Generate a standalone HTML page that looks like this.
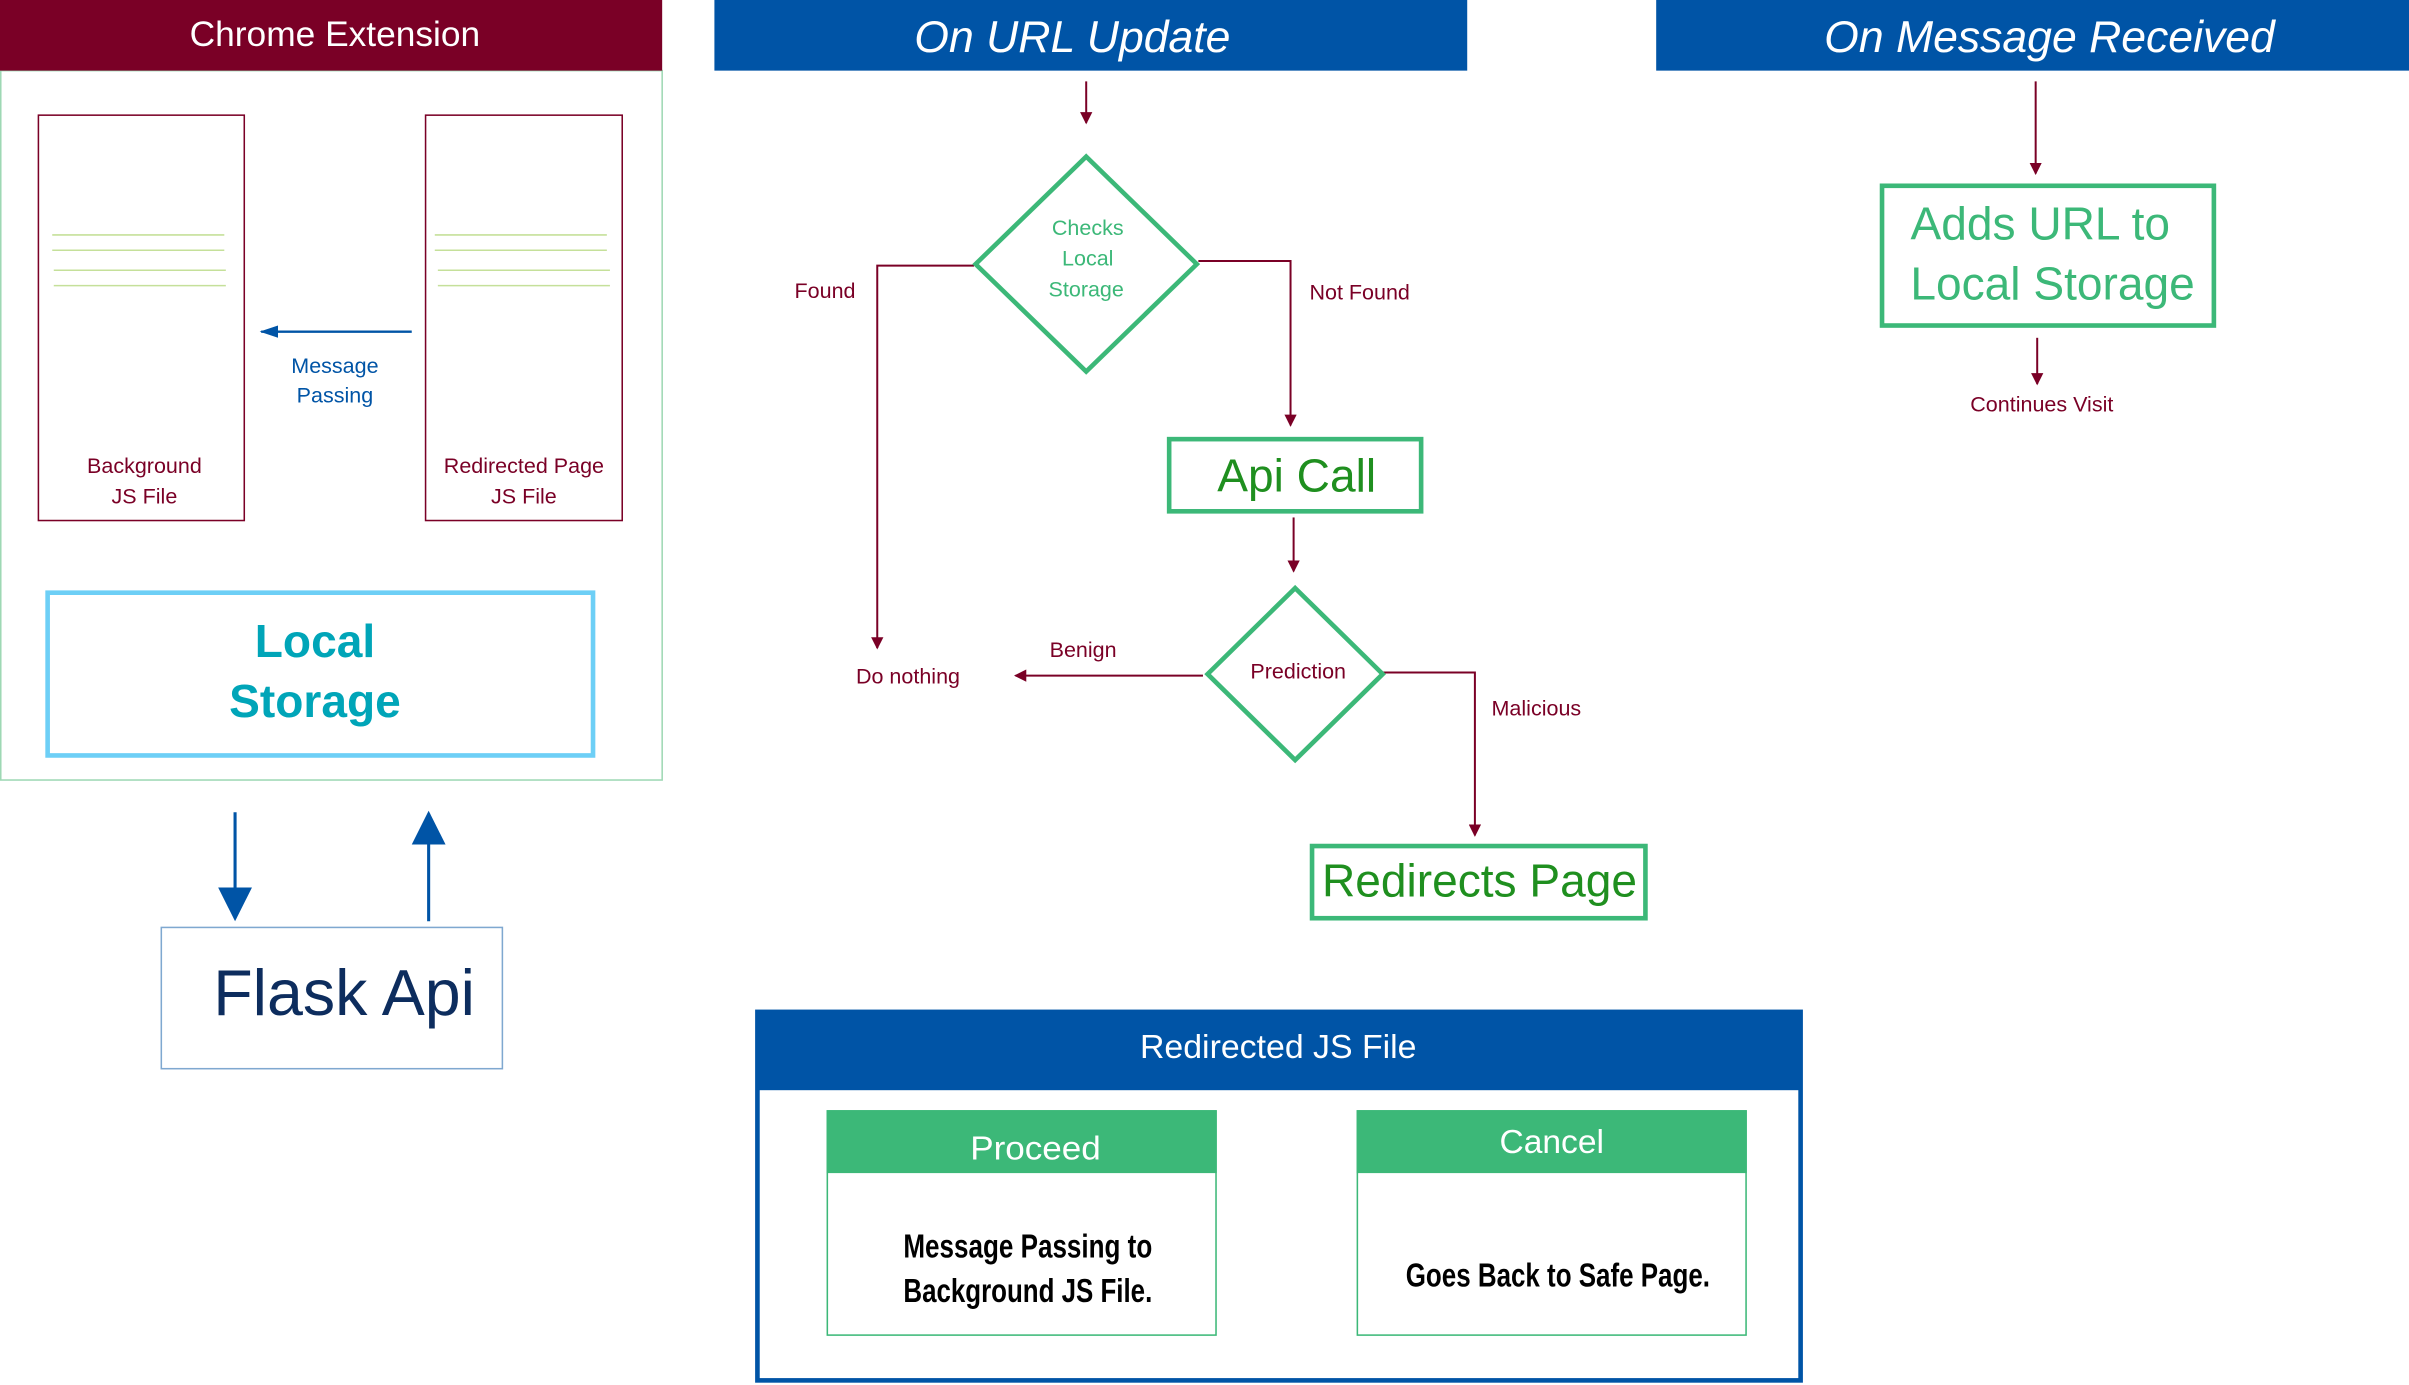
<!DOCTYPE html>
<html><head><meta charset="utf-8"><style>html,body{margin:0;padding:0;background:#fff}svg{display:block}</style></head>
<body>
<svg width="2409" height="1385" viewBox="0 0 1568 902" preserveAspectRatio="none" xmlns="http://www.w3.org/2000/svg" font-family="Liberation Sans, DejaVu Sans, sans-serif">
<defs>
<marker id="mr" markerWidth="8" markerHeight="8" refX="7" refY="4" orient="auto" markerUnits="userSpaceOnUse"><path d="M0,0 L8,4 L0,8 Z" fill="#7a0026"/></marker>
<marker id="mb" markerWidth="12" markerHeight="8" refX="11" refY="4" orient="auto" markerUnits="userSpaceOnUse"><path d="M0,0 L12,4 L0,8 Z" fill="#0054a6"/></marker>
<marker id="mbig" markerWidth="22" markerHeight="22" refX="20" refY="11" orient="auto" markerUnits="userSpaceOnUse"><path d="M0,0 L22,11 L0,22 Z" fill="#0054a6"/></marker>
</defs>
<rect x="0.5" y="46" width="430.5" height="462" fill="none" stroke="#9ed8b4" stroke-width="1"/>
<rect x="0" y="0" width="431" height="46" fill="#7a0026"/>
<text x="218" y="30" font-size="23" fill="#fff" text-anchor="middle">Chrome Extension</text>
<rect x="25" y="75" width="134" height="264" fill="none" stroke="#7a0026" stroke-width="1"/>
<rect x="277" y="75" width="128" height="264" fill="none" stroke="#7a0026" stroke-width="1"/>
<g stroke="#c5e09a" stroke-width="1">
<line x1="34" y1="153" x2="146" y2="153"/><line x1="34" y1="163" x2="146" y2="163"/><line x1="35" y1="176" x2="147" y2="176"/><line x1="35" y1="186" x2="147" y2="186"/>
<line x1="283" y1="153" x2="395" y2="153"/><line x1="283" y1="163" x2="395" y2="163"/><line x1="285" y1="176" x2="397" y2="176"/><line x1="285" y1="186" x2="397" y2="186"/>
</g>
<line x1="268" y1="216" x2="170" y2="216" stroke="#0054a6" stroke-width="1.5" marker-end="url(#mb)"/>
<text x="218" y="243" font-size="14" fill="#0054a6" text-anchor="middle">Message</text>
<text x="218" y="262" font-size="14" fill="#0054a6" text-anchor="middle">Passing</text>
<text x="94" y="308" font-size="14" fill="#7a0026" text-anchor="middle">Background</text>
<text x="94" y="328" font-size="14" fill="#7a0026" text-anchor="middle">JS File</text>
<text x="341" y="308" font-size="14" fill="#7a0026" text-anchor="middle">Redirected Page</text>
<text x="341" y="328" font-size="14" fill="#7a0026" text-anchor="middle">JS File</text>
<rect x="31" y="386" width="355" height="106" fill="none" stroke="#6dcff6" stroke-width="3"/>
<text x="205" y="428" font-size="30" font-weight="bold" fill="#00a5b8" text-anchor="middle">Local</text>
<text x="205" y="467" font-size="30" font-weight="bold" fill="#00a5b8" text-anchor="middle">Storage</text>
<line x1="153" y1="529" x2="153" y2="598" stroke="#0054a6" stroke-width="2" marker-end="url(#mbig)"/>
<line x1="279" y1="600" x2="279" y2="530" stroke="#0054a6" stroke-width="2" marker-end="url(#mbig)"/>
<rect x="105" y="604" width="222" height="92" fill="none" stroke="#7fa8d0" stroke-width="1"/>
<text x="224" y="661" font-size="42" fill="#0d2d5e" text-anchor="middle">Flask Api</text>
<rect x="465" y="0" width="490" height="46" fill="#0054a6"/>
<text x="698" y="34" font-size="29" font-style="italic" fill="#fff" text-anchor="middle">On URL Update</text>
<rect x="1078" y="0" width="490" height="46" fill="#0054a6"/>
<text x="1334" y="34" font-size="29" font-style="italic" fill="#fff" text-anchor="middle">On Message Received</text>
<g stroke="#7a0026" stroke-width="1.3" fill="none">
<line x1="707" y1="53" x2="707" y2="80" marker-end="url(#mr)"/>
<polyline points="634,173 571,173 571,422" marker-end="url(#mr)"/>
<polyline points="780,170 840,170 840,277" marker-end="url(#mr)"/>
<line x1="842" y1="337" x2="842" y2="372" marker-end="url(#mr)"/>
<line x1="783" y1="440" x2="661" y2="440" marker-end="url(#mr)"/>
<polyline points="900,438 960,438 960,544" marker-end="url(#mr)"/>
<line x1="1325" y1="53" x2="1325" y2="113" marker-end="url(#mr)"/>
<line x1="1326" y1="220" x2="1326" y2="250" marker-end="url(#mr)"/>
</g>
<polygon points="707,102 779,172 707,242 635,172" fill="#fff" stroke="#3cb878" stroke-width="3"/>
<text x="708" y="153" font-size="14" fill="#3cb878" text-anchor="middle">Checks</text>
<text x="708" y="173" font-size="14" fill="#3cb878" text-anchor="middle">Local</text>
<text x="707" y="193" font-size="14" fill="#3cb878" text-anchor="middle">Storage</text>
<text x="537" y="194" font-size="14" fill="#7a0026" text-anchor="middle">Found</text>
<text x="885" y="195" font-size="14" fill="#7a0026" text-anchor="middle">Not Found</text>
<rect x="761" y="286" width="164" height="47" fill="none" stroke="#3cb878" stroke-width="3"/>
<text x="844" y="320" font-size="30" fill="#1f8f1f" text-anchor="middle">Api Call</text>
<polygon points="843,383 900,439 843,495 786,439" fill="#fff" stroke="#3cb878" stroke-width="3"/>
<text x="845" y="442" font-size="14" fill="#7a0026" text-anchor="middle">Prediction</text>
<text x="705" y="428" font-size="14" fill="#7a0026" text-anchor="middle">Benign</text>
<text x="591" y="445" font-size="14" fill="#7a0026" text-anchor="middle">Do nothing</text>
<text x="1000" y="466" font-size="14" fill="#7a0026" text-anchor="middle">Malicious</text>
<rect x="854" y="551" width="217" height="47" fill="none" stroke="#3cb878" stroke-width="3"/>
<text x="963" y="584" font-size="30" fill="#1f8f1f" text-anchor="middle">Redirects Page</text>
<rect x="1225" y="121" width="216" height="91" fill="none" stroke="#3cb878" stroke-width="3"/>
<text x="1328" y="156" font-size="30" fill="#3cb878" text-anchor="middle">Adds URL to</text>
<text x="1336" y="195" font-size="30" fill="#3cb878" text-anchor="middle">Local Storage</text>
<text x="1329" y="268" font-size="14" fill="#7a0026" text-anchor="middle">Continues Visit</text>
<rect x="493" y="659" width="679" height="240" fill="none" stroke="#0054a6" stroke-width="3"/>
<rect x="493" y="659" width="679" height="51" fill="#0054a6"/>
<text x="832" y="689" font-size="22" fill="#fff" text-anchor="middle" textLength="180" lengthAdjust="spacingAndGlyphs">Redirected JS File</text>
<rect x="538.5" y="723.5" width="253" height="146" fill="#fff" stroke="#3cb878" stroke-width="1"/>
<rect x="538" y="723" width="254" height="41" fill="#3cb878"/>
<text x="674" y="755" font-size="22" fill="#fff" text-anchor="middle" textLength="85" lengthAdjust="spacingAndGlyphs">Proceed</text>
<text x="669" y="819" font-size="22" fill="#000" font-weight="bold" text-anchor="middle" textLength="162" lengthAdjust="spacingAndGlyphs">Message Passing to</text>
<text x="669" y="848" font-size="22" fill="#000" font-weight="bold" text-anchor="middle" textLength="162" lengthAdjust="spacingAndGlyphs">Background JS File.</text>
<rect x="883.5" y="723.5" width="253" height="146" fill="#fff" stroke="#3cb878" stroke-width="1"/>
<rect x="883" y="723" width="254" height="41" fill="#3cb878"/>
<text x="1010" y="751" font-size="22" fill="#fff" text-anchor="middle" textLength="68" lengthAdjust="spacingAndGlyphs">Cancel</text>
<text x="1014" y="838" font-size="22" fill="#000" font-weight="bold" text-anchor="middle" textLength="198" lengthAdjust="spacingAndGlyphs">Goes Back to Safe Page.</text>
</svg>
</body></html>
